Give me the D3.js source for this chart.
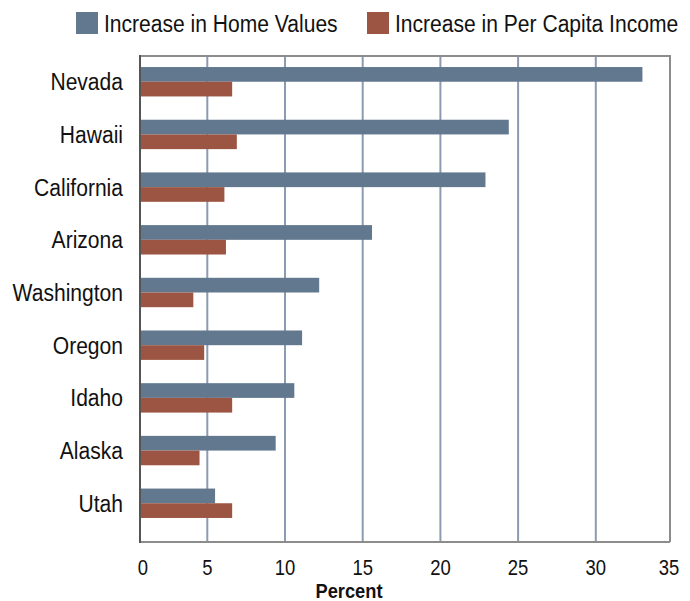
<!DOCTYPE html>
<html>
<head>
<meta charset="utf-8">
<script src="https://cdn.jsdelivr.net/npm/d3@7"></script>
<style>
  html, body { margin: 0; padding: 0; background: #fff; }
  svg { display: block; }
  text { font-family: "Liberation Sans", Arial, "Roboto", sans-serif; fill: #111; }
</style>
</head>
<body>
<svg id="chart" width="690" height="601"></svg>
<script>
const states = ["Nevada", "Hawaii", "California", "Arizona", "Washington", "Oregon", "Idaho", "Alaska", "Utah"];
const homeValues = [33.0, 24.4, 22.9, 15.6, 12.2, 11.1, 10.6, 9.4, 5.5];
const incomeValues = [6.6, 6.9, 6.1, 6.2, 4.1, 4.8, 6.6, 4.5, 6.6];
const seriesNames = ["Increase in Home Values", "Increase in Per Capita Income"];
const seriesColors = ["#62788f", "#9c5542"];
const tickValues = [0, 5, 10, 15, 20, 25, 30, 35];
const gridValues = [5, 10, 15, 20, 25, 30];
const xTitle = "Percent";

const svg = d3.select("#chart");
const plotLeft = 140, plotRight = 670, plotTop = 56, plotBottom = 542;

const x = d3.scaleLinear().domain([0, 35]).range([129.6, 673.5]);
const y = d3.scaleBand().domain(states).range([55.4, 529.6]).padding(0);
const barH = 14.7;

// narrow text helper (condensed look)
function narrowText(sel, px, py, sx) {
  sel.attr("transform", `translate(${px},${py}) scale(${sx},1)`);
}

// gridlines
svg.append("g").selectAll("line").data(gridValues).join("line")
  .attr("x1", d => x(d)).attr("x2", d => x(d))
  .attr("y1", plotTop).attr("y2", plotBottom)
  .attr("stroke", "#8a9bb2").attr("stroke-width", 2);

// border (top, right)
svg.append("path")
  .attr("d", `M${plotLeft},${plotTop}H${plotRight}V${plotBottom}`)
  .attr("fill", "none").attr("stroke", "#8c8c8c").attr("stroke-width", 2);

const rows = states.map((s, i) => ({ s, home: homeValues[i], inc: incomeValues[i] }));

const bars = svg.append("g");
bars.selectAll("rect.home").data(rows).join("rect").attr("class", "home")
  .attr("x", plotLeft)
  .attr("y", d => y(d.s) + y.bandwidth() / 2 - barH)
  .attr("width", d => x(d.home) - plotLeft)
  .attr("height", barH)
  .attr("fill", seriesColors[0]);
bars.selectAll("rect.inc").data(rows).join("rect").attr("class", "inc")
  .attr("x", plotLeft)
  .attr("y", d => y(d.s) + y.bandwidth() / 2)
  .attr("width", d => x(d.inc) - plotLeft)
  .attr("height", barH)
  .attr("fill", seriesColors[1]);

// axes lines
svg.append("line").attr("x1", plotLeft).attr("x2", plotRight).attr("y1", plotBottom).attr("y2", plotBottom)
  .attr("stroke", "#8c8c8c").attr("stroke-width", 2);
svg.append("line").attr("x1", plotLeft).attr("x2", plotLeft).attr("y1", plotTop - 1).attr("y2", plotBottom + 1)
  .attr("stroke", "#555").attr("stroke-width", 2);

// category labels
svg.append("g").selectAll("text").data(states).join("text")
  .each(function (d) { narrowText(d3.select(this), 123, y(d) + y.bandwidth() / 2 + 8.5, 0.86); })
  .attr("text-anchor", "end")
  .attr("font-size", 24.5)
  .text(d => d);

// tick labels
svg.append("g").selectAll("text").data(tickValues).join("text")
  .each(function (d) { narrowText(d3.select(this), Math.min(Math.max(x(d), plotLeft + 3), plotRight - 1), 575, 0.84); })
  .attr("text-anchor", "middle")
  .attr("font-size", 22)
  .text(d => d);

svg.append("text")
  .call(s => narrowText(s, 349, 598, 0.87))
  .attr("text-anchor", "middle")
  .attr("font-size", 21).attr("font-weight", "bold")
  .text(xTitle);

// legend
const legend = svg.append("g");
const legendX = [76, 367];
seriesNames.forEach((n, i) => {
  legend.append("rect").attr("x", legendX[i]).attr("y", 12).attr("width", 22).attr("height", 22)
    .attr("fill", seriesColors[i]);
  legend.append("text").call(s => narrowText(s, legendX[i] + 28, 32, 0.86))
    .attr("font-size", 24.5).text(n);
});
</script>
</body>
</html>
